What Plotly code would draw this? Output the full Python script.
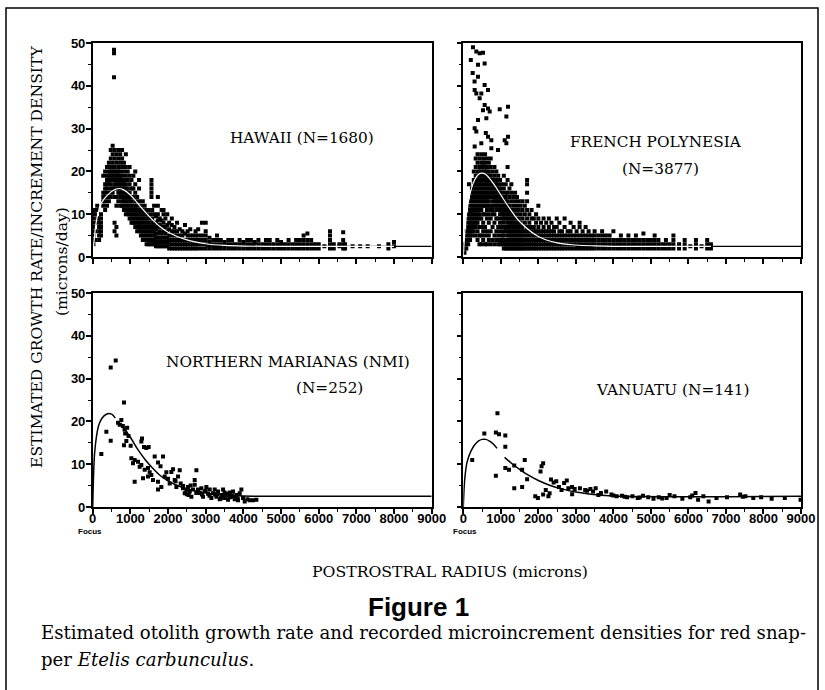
import plotly.graph_objects as go

# ---------------- DATA ----------------
X_TICKS = [0, 1000, 2000, 3000, 4000, 5000, 6000, 7000, 8000, 9000]
X_TICK_TEXT = ["0", "1000", "2000", "3000", "4000", "5000", "6000", "7000", "8000", "9000"]
Y_TICKS = [0, 10, 20, 30, 40, 50]
Y_TICK_TEXT = ["0", "10", "20", "30", "40", "50"]

PANEL_LABELS = ["HAWAII (N=1680)", "FRENCH POLYNESIA", "(N=3877)",
                "NORTHERN MARIANAS (NMI)", "(N=252)", "VANUATU (N=141)"]

# Hawaii: points read column by column (x in microns, y values)
HAWAII_COL_X = [20, 60, 120, 170, 220, 280, 330, 380, 430, 480, 530, 566, 580, 630, 680, 730, 780,
                830, 880, 930, 980, 1030, 1080, 1130, 1180, 1230, 1280, 1330, 1380, 1430, 1480,
                1530, 1560, 1580, 1630, 1680, 1730, 1780, 1830, 1880, 1930, 1980, 2030, 2100,
                2170, 2240, 2310, 2380, 2450, 2520, 2590, 2660, 2730, 2800, 2900, 3000, 3100,
                3200, 3300, 3400, 3500, 3600, 3700, 3800, 3900, 4000, 4100, 4200, 4300, 4400,
                4500, 4600, 4700, 4800, 4900, 5000, 5100, 5200, 5300, 5400, 5500, 5600, 5700,
                5800, 5900, 6000, 6150, 6300, 6400, 6550, 6650, 6700, 6900, 7100, 7300, 7600, 7850, 8000]
HAWAII_COL_Y = [
    [3, 5, 7, 9, 10], [4, 6, 8, 10, 11], [9, 11, 12], [4, 5, 6, 7, 8, 9], [5, 6, 7, 8, 9, 10],
    [12, 13, 14, 15, 19], [11, 13, 15, 16, 17, 20], [12, 14, 16, 17, 18, 19, 21],
    [13, 15, 17, 18, 19, 20, 22], [14, 16, 17, 18, 19, 20, 21, 23, 25],
    [15, 16, 18, 19, 20, 21, 22, 24, 26], [42, 47.6, 48.4],
    [6, 8, 14, 16, 17, 18, 19, 20, 21, 23, 25], [5, 7, 12, 14, 16, 17, 18, 19, 20, 22, 24],
    [13, 15, 16, 17, 18, 19, 20, 21, 23, 25], [12, 14, 15, 16, 17, 18, 19, 20, 22, 24],
    [12, 13, 14, 15, 16, 17, 18, 19, 21, 23, 25], [11, 12, 13, 14, 15, 16, 17, 18, 20, 22],
    [10, 12, 13, 14, 15, 16, 17, 19, 21, 24], [10, 11, 12, 13, 14, 15, 16, 18, 20],
    [9, 10, 11, 12, 13, 14, 15, 17, 19, 21], [8, 9, 10, 11, 12, 13, 14, 16, 18],
    [8, 9, 10, 11, 12, 14, 16, 19], [7, 8, 9, 10, 11, 12, 13, 15, 17, 20],
    [6, 7, 8, 9, 10, 11, 12, 14], [6, 7, 8, 9, 10, 11, 13, 16, 18],
    [5, 6, 7, 8, 9, 10, 11, 12], [4, 5, 6, 7, 8, 9, 10, 11, 13], [4, 5, 6, 7, 8, 9, 10, 12],
    [3, 4, 5, 6, 7, 8, 9, 10, 11], [3, 4, 5, 6, 7, 8, 9, 11], [3, 4, 5, 6, 7, 8, 10],
    [14, 15, 16, 17, 18], [3, 4, 5, 6, 7, 8, 9, 11], [3, 4, 5, 6, 7, 8, 10, 12],
    [2.5, 3.5, 4.5, 5.5, 6.5, 8, 9.5], [2.5, 3.5, 4.5, 5.5, 7, 8.5, 10, 12, 14],
    [2.5, 3.5, 4.5, 6, 7.5, 9], [2.5, 3.5, 4.5, 5.5, 7, 8.5, 11], [2.5, 3.5, 4.5, 6, 7, 8, 10, 11],
    [2.5, 3.5, 4.5, 5.5, 7, 9], [2.5, 3.5, 4.5, 6, 7.5, 10], [2, 3, 4, 5, 6.5, 8],
    [2, 3, 4, 5, 6, 7.5, 9], [2, 3, 4, 5, 6, 7], [2, 3, 4, 5, 6, 8], [2, 3, 4, 5, 6.5],
    [2, 3, 4, 5, 6], [2, 3, 4, 5.5, 7.5], [2, 3, 4, 5, 6], [2, 3, 4, 5, 6.5], [2, 3, 4, 5],
    [2, 3, 4, 5, 6], [2, 3, 4, 5, 6.5], [2, 3, 4, 5, 8], [2, 3, 4, 5, 6, 8], [2, 3, 3.5, 4.5],
    [2, 3, 4], [2, 3, 4, 5], [2, 3, 4], [2, 3, 3.5], [2, 3, 4], [2, 3, 4], [2, 3], [2, 3, 4],
    [2, 3, 3.5], [2, 3, 4], [2, 3, 4], [2, 3, 3.5], [2, 3, 4], [2, 3], [2, 3, 4], [2, 3, 4],
    [2, 3], [2, 3, 4], [2, 3, 3.5], [2, 3], [2, 3, 4], [2, 3], [2, 3, 4], [2, 3, 4],
    [2, 3, 4, 5], [2, 3, 4, 5.5], [2, 3, 4], [2, 3], [2, 3], [2.5], [2, 3, 4, 5, 6], [2, 3],
    [2.5, 3], [2, 3, 4, 5.8], [2, 3], [2.5], [2.5], [2.5], [2.5], [2, 3], [2.5, 3.5]]

# French Polynesia
FP_COL_X = [30, 80, 130, 180, 230, 280, 330, 380, 430, 480, 530, 580, 630, 680, 730, 780, 830, 880,
            930, 980, 1030, 1080, 1130, 1180, 1230, 1280, 1330, 1380, 1430, 1480, 1530, 1580, 1640,
            1700, 1760, 1820, 1880, 1940, 2000, 2070, 2140, 2210, 2280, 2350, 2420, 2490, 2560,
            2630, 2700, 2780, 2860, 2940, 3020, 3100, 3180, 3260, 3340, 3420, 3500, 3600, 3700,
            3800, 3900, 4000, 4100, 4200, 4300, 4400, 4500, 4600, 4700, 4800, 4900, 5000, 5100,
            5200, 5300, 5400, 5500, 5600, 5750, 5900, 6050, 6200, 6350, 6500, 6600]
FP_COL_Y = [
    [1, 2, 3], [2, 3, 4, 5, 6], [3, 4, 5, 6, 7, 8, 9, 10], [4, 5, 6, 7, 8, 9, 10, 11, 12, 13],
    [5, 6, 7, 8, 9, 10, 11, 12, 13, 14, 15, 16],
    [6, 7, 8, 9, 10, 11, 12, 13, 14, 15, 16, 17, 18, 20],
    [5, 7, 8, 9, 10, 11, 12, 13, 14, 15, 16, 17, 18, 19, 21, 23],
    [4, 6, 8, 9, 10, 11, 12, 13, 14, 15, 16, 17, 18, 19, 20, 22, 24],
    [3, 5, 7, 9, 10, 11, 12, 13, 14, 15, 16, 17, 18, 19, 20, 21, 23],
    [3, 5, 7, 9, 11, 12, 13, 14, 15, 16, 17, 18, 19, 20, 21, 22, 24],
    [4, 6, 8, 10, 12, 13, 14, 15, 16, 17, 18, 19, 20, 21, 22, 23],
    [3, 5, 7, 10, 12, 13, 14, 15, 16, 17, 18, 19, 20, 21, 22, 24],
    [3, 6, 9, 11, 12, 13, 14, 15, 16, 17, 18, 19, 20, 21, 23],
    [4, 5, 8, 10, 12, 13, 14, 15, 16, 17, 18, 19, 20, 22],
    [3, 6, 9, 11, 12, 14, 15, 16, 17, 18, 19, 21, 23],
    [4, 7, 10, 11, 12, 13, 14, 15, 16, 17, 18, 20],
    [3, 5, 8, 10, 12, 13, 14, 15, 16, 17, 18, 19, 21],
    [4, 6, 9, 11, 12, 13, 14, 15, 16, 17, 18, 20],
    [3, 5, 7, 9, 11, 12, 13, 14, 15, 16, 17, 19],
    [3, 4, 6, 8, 10, 11, 12, 13, 14, 15, 16, 18],
    [3, 4, 5, 7, 9, 10, 11, 12, 13, 14, 15, 17],
    [2, 3, 5, 6, 8, 9, 10, 11, 12, 13, 14, 16, 19],
    [2, 3, 4, 6, 7, 9, 10, 11, 12, 13, 14, 15, 17],
    [2, 3, 4, 5, 6, 7, 8, 9, 10, 11, 12, 13, 15, 18, 21],
    [2, 3, 4, 5, 6, 7, 8, 9, 10, 11, 12, 14, 16],
    [2, 3, 4, 5, 6, 7, 8, 9, 10, 11, 13, 15, 17],
    [2, 3, 4, 5, 6, 7, 8, 9, 10, 12, 14], [2, 3, 4, 5, 6, 7, 8, 9, 11, 13, 15],
    [2, 3, 4, 5, 6, 7, 8, 10, 12, 14], [2, 3, 4, 5, 6, 7, 8, 9, 11, 13],
    [2, 3, 4, 5, 6, 7, 8, 10, 12], [2, 3, 4, 5, 6, 7, 9, 11, 13], [2, 3, 4, 5, 6, 8, 10, 12],
    [2, 3, 4, 5, 6, 7, 9, 11, 13, 15, 17, 18], [2, 3, 4, 5, 6, 7, 8, 10],
    [2, 3, 4, 5, 6, 7, 9, 11], [2, 3, 4, 5, 6, 7, 9], [2, 3, 4, 5, 6, 8, 10],
    [2, 3, 4, 5, 6, 7, 9, 12], [2, 3, 4, 5, 6, 8], [2, 3, 4, 5, 6, 7, 9], [2, 3, 4, 5, 6, 8],
    [2, 3, 4, 5, 6, 7, 9], [2, 3, 4, 5, 6, 8], [2, 3, 4, 5, 6, 7], [2, 3, 4, 5, 7, 9],
    [2, 3, 4, 5, 6, 8], [2, 3, 4, 5, 6], [2, 3, 4, 5, 7, 9], [2, 3, 4, 5, 6], [2, 3, 4, 5, 6, 8],
    [2, 3, 4, 5, 7], [2, 3, 4, 5, 6], [2, 3, 4, 5, 7, 8], [2, 3, 4, 5, 6], [2, 3, 4, 5, 7],
    [2, 3, 4, 5, 6], [2, 3, 4, 5], [2, 3, 4, 5, 6], [2, 3, 4, 5], [2, 3, 4, 5, 6], [2, 3, 4, 5],
    [2, 3, 4, 5], [2, 3, 4, 6], [2, 3, 4], [2, 3, 4, 5], [2, 3, 4], [2, 3, 4, 5], [2, 3, 4],
    [2, 3, 4, 5], [2, 3, 4], [2, 3, 4, 5.5], [2, 3, 4], [2, 3, 4], [2, 3, 4, 5], [2, 3, 4],
    [2, 3], [2, 3, 4], [2, 3], [2, 3, 4, 5], [2, 3], [2, 3, 4], [2.5], [2, 3, 4], [2.5],
    [2, 3, 4], [2, 3]]
FP_OUT_X = [258, 347, 436, 525, 569, 392, 392, 569, 658, 303, 347, 436, 480, 569, 525, 658, 703,
            970, 1192, 1148, 614, 392, 303, 347, 658, 747, 1192, 1103, 480, 303, 747, 925, 1148,
            200, 250, 300, 150, 600]
FP_OUT_Y = [49, 48, 47.6, 47.7, 45.2, 44.9, 42.1, 40.2, 39, 39, 38.2, 37.1, 38.2, 35.5, 34.3,
            34.7, 34, 34.5, 35.1, 32.8, 32.4, 32, 30.1, 29.3, 28.1, 27.3, 28.1, 27.3, 26.6, 25.8,
            25.4, 25, 26.6, 46, 43, 41, 17, 29]

# Northern Marianas
NMI_X = [478, 611, 831, 229, 363, 478, 672, 760, 716, 800, 845, 862, 915, 951, 831, 893, 1008,
         1309, 1291, 1362, 1424, 1486, 1026, 1114, 1070, 1203, 1247, 1291, 1380, 1468, 1513, 1557,
         1646, 1734, 1867, 1114, 1336, 1468, 1601, 1734, 1734, 1822, 1911, 1955, 2044, 2088, 2133,
         2177, 2266, 2310, 2221, 2336, 2398, 2443, 2487, 2531, 2576, 2620, 2664, 2708, 2753, 2797,
         2841, 2885, 2930, 2974, 3018, 3062, 3107, 3151, 3195, 3239, 3284, 3328, 3372, 3416, 3461,
         3505, 3549, 3593, 3638, 3682, 3726, 3770, 3815, 3859, 3903, 3947, 3991, 4036, 4106, 4168,
         4257, 4345, 2708, 2600, 2500, 2900, 3000, 3300, 3500, 3700, 2400, 2200, 2000, 1800, 3400,
         3800, 3600, 3100, 2800, 2550, 2750, 3250, 3450, 3650, 3850]
NMI_Y = [32.6, 34.2, 24.4, 12.4, 17.6, 15.5, 19.7, 20.3, 19.2, 18.9, 18.1, 17.2, 18.5, 16.6, 14.4,
         15.4, 14.3, 16.0, 15.3, 14.0, 13.8, 14.0, 11.4, 11.0, 10.2, 10.6, 9.4, 9.8, 8.7, 9.1, 8.1,
         7.5, 11.8, 10.4, 11.8, 5.9, 6.7, 7.1, 6.3, 5.9, 4.1, 4.7, 7.1, 8.1, 5.5, 8.2, 8.8, 6.3, 7.1,
         8.6, 4.7, 5.5, 4.4, 3.2, 4.0, 4.7, 3.6, 2.4, 4.1, 5.2, 8.6, 4.1, 3.3, 4.4, 2.4, 3.6, 4.7,
         3.1, 4.1, 2.1, 3.2, 4.1, 2.4, 3.6, 1.8, 2.8, 4.1, 2.1, 3.1, 1.7, 3.4, 2.4, 3.6, 1.8, 2.8,
         1.6, 3.2, 4.1, 2.1, 1.3, 1.8, 1.6, 1.6, 1.7, 6.3, 5.0, 3.0, 2.9, 3.8, 3.0, 3.4, 2.7, 4.9,
         6.0, 6.6, 9.5, 2.0, 2.2, 2.6, 2.6, 3.9, 2.8, 3.3, 2.9, 2.5, 2.3, 2.0]

# Vanuatu
VAN_X = [238, 560, 868, 910, 952, 1120, 1120, 868, 1120, 1218, 1358, 1568, 1638, 1358, 1568, 2128,
         2086, 2058, 1918, 1988, 2128, 2198, 2268, 2338, 2408, 2478, 2548, 2618, 2688, 2758, 2800,
         2898, 2968, 3108, 3248, 3388, 3458, 3528, 3668, 3808, 3948, 4088, 4228, 4368, 4508, 4648,
         4788, 4928, 5068, 5208, 5418, 5628, 5838, 6048, 6188, 6258, 6398, 6538, 6748, 7028, 7378,
         7518, 7728, 7938, 8218, 8568, 8988, 1700, 2300, 2900, 3300, 3600, 4000, 4300, 4700, 5300,
         5500, 6100, 7450]
VAN_Y = [11.0, 17.2, 17.4, 21.9, 17.0, 16.7, 14.1, 7.3, 9.1, 8.7, 9.7, 8.7, 11.0, 4.4, 4.7, 10.2,
         9.5, 8.3, 2.5, 2.1, 2.9, 4.0, 2.5, 6.4, 5.7, 6.0, 4.7, 4.0, 5.6, 6.2, 4.4, 4.7, 4.2, 4.4,
         4.0, 4.2, 3.6, 4.4, 3.3, 3.6, 2.9, 2.5, 2.6, 2.3, 2.5, 2.1, 2.6, 2.3, 1.9, 2.3, 2.1, 2.5,
         1.9, 2.3, 3.3, 1.7, 2.5, 1.3, 2.1, 2.3, 2.9, 2.5, 2.1, 2.3, 1.9, 2.1, 1.7, 6.5, 3.2, 3.0,
         3.8, 2.8, 2.7, 2.4, 2.2, 2.0, 2.8, 2.7, 2.4]

# fitted curves (None = gap in the printed curve)
HAWAII_CURVE_X = [0, 50, 100, 200, 300, 400, 500, 600, 700, 800, 1000, 1200, 1500, 1800, 2000,
                  2500, 3000, 3500, 4000, 5000, 8000]
HAWAII_CURVE_Y = [0, 5, 8.5, 12, 13.5, 14.5, 15.3, 15.8, 16, 15.8, 14.5, 12.5, 9.5, 7, 5.8, 4, 3.1,
                  2.7, 2.55, 2.5, 2.5]
FP_CURVE_X = [0, 50, 100, 200, 300, 400, 500, 600, 800, 1000, 1200, 1500, 2000, 2500, 3000, 3500,
              4000, 6600]
FP_CURVE_Y = [0, 7, 11, 15.5, 18, 19.3, 19.6, 19.3, 17.2, 14.5, 11.8, 8.3, 4.8, 3.3, 2.8, 2.6, 2.5, 2.5]
NMI_CURVE_X = [0, 25, 50, 100, 150, 200, 300, 400, 500, 550, 600, None, 750, 900, 1000, 1200, 1400,
               1600, 1800, 2000, 2200, 2500, 3000, 3500, 4000, 4300, 9000]
NMI_CURVE_Y = [0, 8, 12.5, 16.5, 18.8, 20, 21.3, 21.8, 21.7, 21.3, 20.8, None, 19.6, 17.6, 16.3,
               13.4, 11, 9, 7.3, 6.1, 5.2, 4.3, 3.3, 2.8, 2.55, 2.5, 2.5]
VAN_CURVE_X = [0, 25, 50, 100, 200, 300, 400, 500, 600, 700, 800, 900, None, 1100, 1300, 1500,
               1700, 2000, 2300, 2600, 3000, 3400, 3800, 4200, 9000]
VAN_CURVE_Y = [0, 5, 7.5, 10.5, 13, 14.5, 15.4, 15.8, 15.8, 15.4, 14.7, 13.7, None, 11.6, 10.1,
               8.8, 7.6, 6.2, 5.1, 4.3, 3.5, 3.0, 2.7, 2.5, 2.5]
ASYMPTOTE = 2.5
TOP_LINE_X = [3000, 9000]


def flatten(cols_x, cols_y):
    xs, ys = [], []
    for x, yl in zip(cols_x, cols_y):
        for y in yl:
            xs.append(x)
            ys.append(y)
    return xs, ys


hx, hy = flatten(HAWAII_COL_X, HAWAII_COL_Y)
fx, fy = flatten(FP_COL_X, FP_COL_Y)
fx += FP_OUT_X
fy += FP_OUT_Y

# ---------------- FIGURE ----------------
W, H = 825, 690
SERIF = "DejaVu Serif"
SANS = "Liberation Sans"

fig = go.Figure()
mk = dict(symbol="square", size=4, color="black", line=dict(width=0))

fig.add_trace(go.Scatter(x=TOP_LINE_X, y=[ASYMPTOTE] * len(TOP_LINE_X), mode="lines",
                         line=dict(color="black", width=1.3), xaxis="x", yaxis="y"))
fig.add_trace(go.Scatter(x=hx, y=hy, mode="markers", marker=mk, xaxis="x", yaxis="y"))
fig.add_trace(go.Scatter(x=HAWAII_CURVE_X, y=HAWAII_CURVE_Y, mode="lines",
                         line=dict(color="white", width=1.2, shape="spline"), xaxis="x", yaxis="y"))

fig.add_trace(go.Scatter(x=TOP_LINE_X, y=[ASYMPTOTE] * len(TOP_LINE_X), mode="lines",
                         line=dict(color="black", width=1.3), xaxis="x2", yaxis="y2"))
fig.add_trace(go.Scatter(x=fx, y=fy, mode="markers", marker=mk, xaxis="x2", yaxis="y2"))
fig.add_trace(go.Scatter(x=FP_CURVE_X, y=FP_CURVE_Y, mode="lines",
                         line=dict(color="white", width=1.2, shape="spline"), xaxis="x2", yaxis="y2"))

fig.add_trace(go.Scatter(x=NMI_X, y=NMI_Y, mode="markers", marker=mk, xaxis="x3", yaxis="y3"))
fig.add_trace(go.Scatter(x=NMI_CURVE_X, y=NMI_CURVE_Y, mode="lines", connectgaps=False,
                         line=dict(color="black", width=1.5, shape="spline"), xaxis="x3", yaxis="y3"))
fig.add_trace(go.Scatter(x=VAN_X, y=VAN_Y, mode="markers", marker=mk, xaxis="x4", yaxis="y4"))
fig.add_trace(go.Scatter(x=VAN_CURVE_X, y=VAN_CURVE_Y, mode="lines", connectgaps=False,
                         line=dict(color="black", width=1.5, shape="spline"), xaxis="x4", yaxis="y4"))

LEFT = (92.7 / W, 431.7 / W)
RIGHT = (463.3 / W, 801.0 / W)
TOP = (1 - 257 / H, 1 - 43 / H)
BOT = (1 - 507 / H, 1 - 293 / H)

tickfont = dict(family=SANS, size=13, color="black", weight=700)


def xax(domain, anchor, labels):
    return dict(domain=domain, anchor=anchor, range=[0, 9000], showgrid=False, zeroline=False,
                automargin=False, ticklabelstandoff=-6,
                showline=True, linecolor="black", linewidth=1.5, mirror=True,
                ticks="outside", ticklen=5, tickwidth=1.5, tickcolor="black",
                tickvals=X_TICKS, ticktext=X_TICK_TEXT, showticklabels=labels,
                tickfont=tickfont,
                minor=dict(tickvals=[500, 1500, 2500, 3500, 4500, 5500, 6500, 7500, 8500],
                           ticks="outside", ticklen=3, tickwidth=1.2, tickcolor="black"))


def yax(domain, anchor, labels):
    return dict(domain=domain, anchor=anchor, range=[0, 50], showgrid=False, zeroline=False,
                automargin=False, ticklabelstandoff=-2,
                showline=True, linecolor="black", linewidth=1.5, mirror=True,
                ticks="outside", ticklen=5, tickwidth=1.5, tickcolor="black",
                tickvals=Y_TICKS, ticktext=Y_TICK_TEXT, showticklabels=labels,
                tickfont=tickfont,
                minor=dict(tickvals=[5, 15, 25, 35, 45], ticks="outside", ticklen=3,
                           tickwidth=1.2, tickcolor="black"))


def px(x, y, text, size=14, family=SERIF, angle=0, xanchor="center", weight="normal"):
    return dict(x=x / W, y=1 - y / H, xref="paper", yref="paper", text=text, showarrow=False,
                xanchor=xanchor, yanchor="middle", textangle=angle,
                font=dict(family=family, size=size, color="black", weight=weight))


annotations = [
    px(302, 138, PANEL_LABELS[0], size=15.3),
    px(656, 142, PANEL_LABELS[1], size=15.3),
    px(660, 169, PANEL_LABELS[2], size=15.3),
    px(288, 362, PANEL_LABELS[3], size=15.3),
    px(329, 388, PANEL_LABELS[4], size=15.3),
    px(672, 390, PANEL_LABELS[5], size=15.3),
    px(37, 257, "ESTIMATED GROWTH RATE/INCREMENT DENSITY", size=15.6, angle=-90),
    px(62, 262, "(microns/day)", size=15.6, angle=-90),
    px(450, 571, "POSTROSTRAL RADIUS (microns)", size=15.7),
    px(90, 531, "Focus", size=8, family=SANS, weight=700),
    px(465, 531, "Focus", size=8, family=SANS, weight=700),
    px(418, 607, "Figure 1", size=26, family=SANS, weight=700),
    px(39, 632, "Estimated otolith growth rate and recorded microincrement densities for red snap-",
       size=18.1, xanchor="left"),
    px(39, 659, "per <i>Etelis carbunculus</i>.", size=18.1, xanchor="left"),
]

fig.update_layout(
    width=W, height=H, margin=dict(l=0, r=0, t=0, b=0, autoexpand=False),
    paper_bgcolor="white", plot_bgcolor="white", showlegend=False,
    xaxis=xax(LEFT, "y", False), yaxis=yax(TOP, "x", True),
    xaxis2=xax(RIGHT, "y2", False), yaxis2=yax(TOP, "x2", False),
    xaxis3=xax(LEFT, "y3", True), yaxis3=yax(BOT, "x3", True),
    xaxis4=xax(RIGHT, "y4", True), yaxis4=yax(BOT, "x4", False),
    annotations=annotations,
    shapes=[dict(type="rect", xref="paper", yref="paper", x0=6 / W, x1=818 / W,
                 y0=-0.02, y1=1 - 8 / H, line=dict(color="black", width=1.5))],
)

fig.write_html("out.html", config={"displayModeBar": False},
               post_script="document.body.style.margin='0';document.body.style.overflow='hidden';")
